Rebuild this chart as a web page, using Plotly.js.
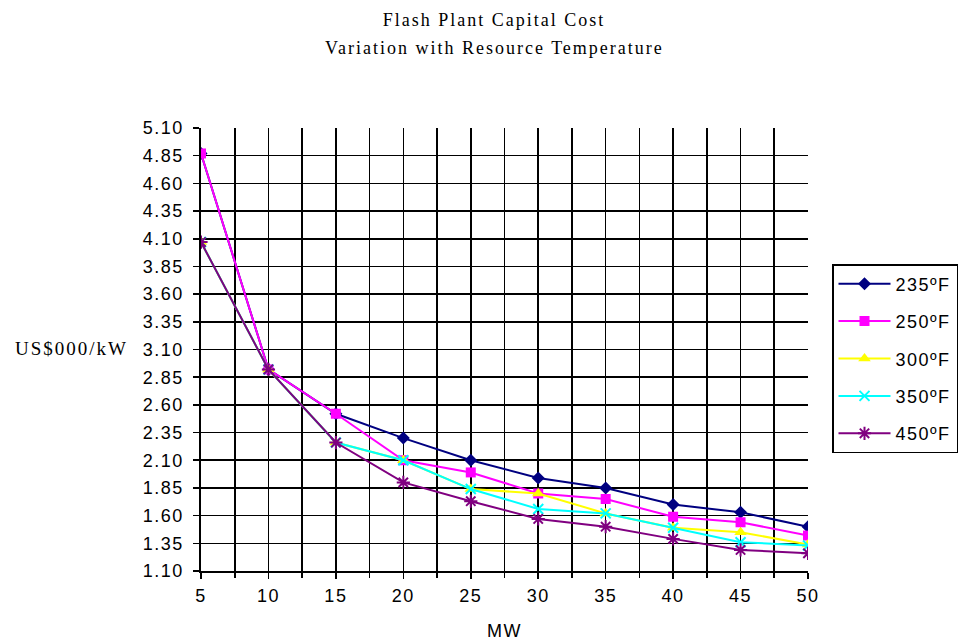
<!DOCTYPE html>
<html>
<head>
<meta charset="utf-8">
<script src="https://cdn.plot.ly/plotly-3.0.1.min.js"></script>
<style>
  html, body { margin: 0; padding: 0; background: #fff; }
  #chart { width: 961px; height: 643px; }
  .gtitle, .annotation-text { letter-spacing: 2px; }
  .xtick text, .ytick text, .legendtext, .xtitle { letter-spacing: 1.5px; }
</style>
</head>
<body>
<div id="chart"></div>
<script>
// ---- Data ----
const mw = [5, 10, 15, 20, 25, 30, 35, 40, 45, 50];
const seriesNames = ["235ºF", "250ºF", "300ºF", "350ºF", "450ºF"];
const t235 = [4.87, 2.92, 2.52, 2.30, 2.10, 1.94, 1.85, 1.70, 1.63, 1.50];
const t250 = [4.87, 2.92, 2.52, 2.10, 1.99, 1.80, 1.75, 1.59, 1.54, 1.42];
const t300 = [4.07, 2.92, 2.26, 2.10, 1.84, 1.80, 1.62, 1.49, 1.45, 1.34];
const t350 = [4.07, 2.92, 2.26, 2.10, 1.84, 1.66, 1.62, 1.49, 1.36, 1.33];
const t450 = [4.07, 2.92, 2.26, 1.90, 1.73, 1.57, 1.50, 1.39, 1.29, 1.26];
const titleLine1 = "Flash Plant Capital Cost";
const titleLine2 = "Variation with Resource Temperature";
const yTitle = "US$000/kW";
const xTitle = "MW";

const values = [t235, t250, t300, t350, t450];
const colors = ["#000080", "#FF00FF", "#FFFF00", "#00FFFF", "#800080"];
const symbols = ["diamond", "square", "triangle-up", "x-thin-open", "asterisk-open"];
const sizes = [10, 10, 11, 10, 11];

const traces = values.map((v, i) => ({
  x: mw, y: v, name: seriesNames[i], type: "scatter", mode: "lines+markers",
  legendgroup: "g" + i,
  line: { color: colors[i], width: 2 },
  marker: { symbol: symbols[i], color: colors[i], size: sizes[i],
            line: { color: colors[i], width: (i >= 3 ? 2 : 0) } }
}));

const sans = "Liberation Sans, Arial, sans-serif";
const serif = "Liberation Serif, Times New Roman, serif";

const layout = {
  width: 961, height: 643, autosize: false,
  paper_bgcolor: "#fff", plot_bgcolor: "#fff",
  margin: { l: 201, r: 153, t: 128, b: 72, autoexpand: false },
  showlegend: true,
  font: { family: sans, size: 18, color: "#000" },
  title: {
    text: titleLine1, xref: "container", yref: "container",
    x: 494 / 961, xanchor: "center", y: 1 - 20 / 643, yanchor: "middle",
    font: { family: serif, size: 18, color: "#000" }
  },
  xaxis: {
    type: "linear", range: [5, 50], tick0: 5, dtick: 5,
    showgrid: true, gridcolor: "#000", gridwidth: 1.6,
    minor: { dtick: 2.5, showgrid: true, gridcolor: "#000", gridwidth: 1.6,
             ticks: "outside", ticklen: 5, tickcolor: "#000" },
    showline: true, linecolor: "#000", linewidth: 1.6,
    ticks: "outside", ticklen: 6, tickcolor: "#000", tickwidth: 1.6,
    ticklabelstandoff: 2,
    automargin: false,
    zeroline: false,
    tickfont: { family: sans, size: 18 },
    title: { text: xTitle, standoff: 19, font: { family: sans, size: 18 } }
  },
  yaxis: {
    range: [1.10, 5.10], tick0: 1.10, dtick: 0.25, tickformat: ".2f",
    showgrid: true, gridcolor: "#000", gridwidth: 1.6,
    showline: true, linecolor: "#000", linewidth: 1.6,
    ticks: "outside", ticklen: 6, tickcolor: "#000", tickwidth: 1.6,
    ticklabelstandoff: 6,
    automargin: false,
    zeroline: false,
    tickfont: { family: sans, size: 18 }
  },
  legend: {
    x: (832 - 201) / 607, xanchor: "left",
    y: (571 - 264) / 443, yanchor: "top",
    bordercolor: "#000", borderwidth: 1.5, bgcolor: "#fff",
    tracegroupgap: 11, itemwidth: 52,
    font: { family: sans, size: 18 }
  },
  annotations: [
    { text: titleLine2, xref: "paper", yref: "paper",
      x: (494 - 201) / 607, y: (571 - 48) / 443, xanchor: "center", yanchor: "middle",
      showarrow: false,
      font: { family: serif, size: 18, color: "#000" } },
    { text: yTitle, xref: "paper", yref: "paper",
      x: (130 - 201) / 607, y: (571 - 348) / 443, xanchor: "right", yanchor: "middle",
      showarrow: false,
      font: { family: serif, size: 19, color: "#000" } }
  ]
};

Plotly.newPlot("chart", traces, layout, { staticPlot: true, displayModeBar: false });
</script>
</body>
</html>
